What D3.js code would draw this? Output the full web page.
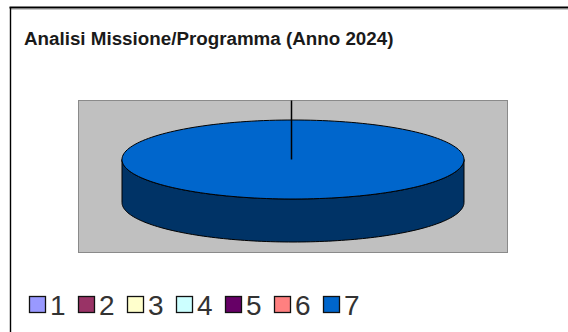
<!DOCTYPE html>
<html>
<head>
<meta charset="utf-8">
<script src="https://cdn.jsdelivr.net/npm/d3@7/dist/d3.min.js"></script>
<style>
  html, body { margin: 0; padding: 0; background: #fff; }
  svg { display: block; }
  svg text { font-family: "Liberation Sans", Arial, Helvetica, sans-serif; }
</style>
</head>
<body>
<svg id="chart" width="568" height="332"></svg>
<script>
// Chart data
const title = "Analisi Missione/Programma (Anno 2024)";
const categories = ["1", "2", "3", "4", "5", "6", "7"];
const values = [0, 0, 0, 0, 0, 0, 100];
const topColors = ["#9999FF", "#993366", "#FFFFCC", "#CCFFFF", "#660066", "#FF8080", "#0066CC"];
const sideColors = ["#4d4d80", "#4d1a33", "#808066", "#668080", "#330033", "#804040", "#003366"];

const svg = d3.select("#chart");
const W = 568, H = 332;

// Outer frame (only top/left edges fall inside the view)
svg.append("line").attr("x1", 11).attr("x2", W).attr("y1", 9.5).attr("y2", 9.5)
  .attr("stroke", "#c8c8c8").attr("stroke-width", 1);
svg.append("line").attr("x1", 9.5).attr("x2", W).attr("y1", 7.5).attr("y2", 7.5)
  .attr("stroke", "#000").attr("stroke-width", 1.8);
svg.append("line").attr("x1", 10.5).attr("x2", 10.5).attr("y1", 7).attr("y2", H)
  .attr("stroke", "#000").attr("stroke-width", 1.4);

// Title
svg.append("text").attr("x", 24).attr("y", 44.5)
  .attr("font-weight", "bold").attr("font-size", 18.8)
  .attr("fill", "#1a1a1a").text(title);

// Plot area
const plot = { x: 78, y: 100, w: 429, h: 152 };
svg.append("rect").attr("x", plot.x + 0.5).attr("y", plot.y + 0.5)
  .attr("width", plot.w).attr("height", plot.h)
  .attr("fill", "#c0c0c0").attr("stroke", "#8a8a8a").attr("stroke-width", 1);

// 3D pie geometry
const cx = 293, cy = 159.5, rx = 171, ry = 39.5, depth = 43;
const pie = d3.pie().sort(null).value(d => d.v);
const arcs = pie(categories.map((c, i) => ({ c, v: values[i], i })));

const pt = (a, dy = 0) => [cx + rx * Math.sin(a), cy - ry * Math.cos(a) + dy];

function topPath(a0, a1) {
  const p = d3.path();
  const full = a1 - a0 >= 2 * Math.PI - 1e-6;
  const n = Math.max(2, Math.ceil((a1 - a0) / (2 * Math.PI) * 180));
  if (!full) p.moveTo(cx, cy);
  for (let k = 0; k <= n; k++) {
    const [x, y] = pt(a0 + (a1 - a0) * k / n);
    (full && k === 0) ? p.moveTo(x, y) : p.lineTo(x, y);
  }
  p.closePath();
  return p.toString();
}

function sidePath(a0, a1) {
  // Visible front wall lies between PI/2 and 3PI/2
  const s = Math.max(a0, Math.PI / 2), e = Math.min(a1, 3 * Math.PI / 2);
  if (e <= s) return null;
  const n = Math.max(2, Math.ceil((e - s) / Math.PI * 120));
  const p = d3.path();
  for (let k = 0; k <= n; k++) {
    const [x, y] = pt(s + (e - s) * k / n);
    k === 0 ? p.moveTo(x, y) : p.lineTo(x, y);
  }
  for (let k = n; k >= 0; k--) {
    const [x, y] = pt(s + (e - s) * k / n, depth);
    p.lineTo(x, y);
  }
  p.closePath();
  return p.toString();
}

const g = svg.append("g");
const shown = arcs.filter(d => d.value > 0);
shown.forEach(d => {
  const sp = sidePath(d.startAngle, d.endAngle);
  if (sp) g.append("path").attr("d", sp).attr("fill", sideColors[d.data.i])
    .attr("stroke", "#000").attr("stroke-width", 1);
});
shown.forEach(d => {
  g.append("path").attr("d", topPath(d.startAngle, d.endAngle))
    .attr("fill", topColors[d.data.i]).attr("stroke", "#000").attr("stroke-width", 1);
});
// Slice boundary at the start angle, running up to the plot edge
shown.forEach(d => {
  g.append("line").attr("x1", cx - 1.5).attr("y1", cy)
    .attr("x2", cx - 1.5).attr("y2", plot.y + 0.5)
    .attr("stroke", "#000").attr("stroke-width", 1.5);
});

// Legend
const legend = svg.append("g");
const lx = d3.scalePoint().domain(categories).range([29, 323]);
categories.forEach((c, i) => {
  const x = lx(c);
  legend.append("rect").attr("x", x + 0.5).attr("y", 296.5).attr("width", 16).attr("height", 16)
    .attr("fill", topColors[i]).attr("stroke", "#111").attr("stroke-width", 1.3);
  legend.append("text").attr("x", x + 21).attr("y", 315)
    .attr("font-size", 28).attr("fill", "#333").text(c);
});
</script>
</body>
</html>
